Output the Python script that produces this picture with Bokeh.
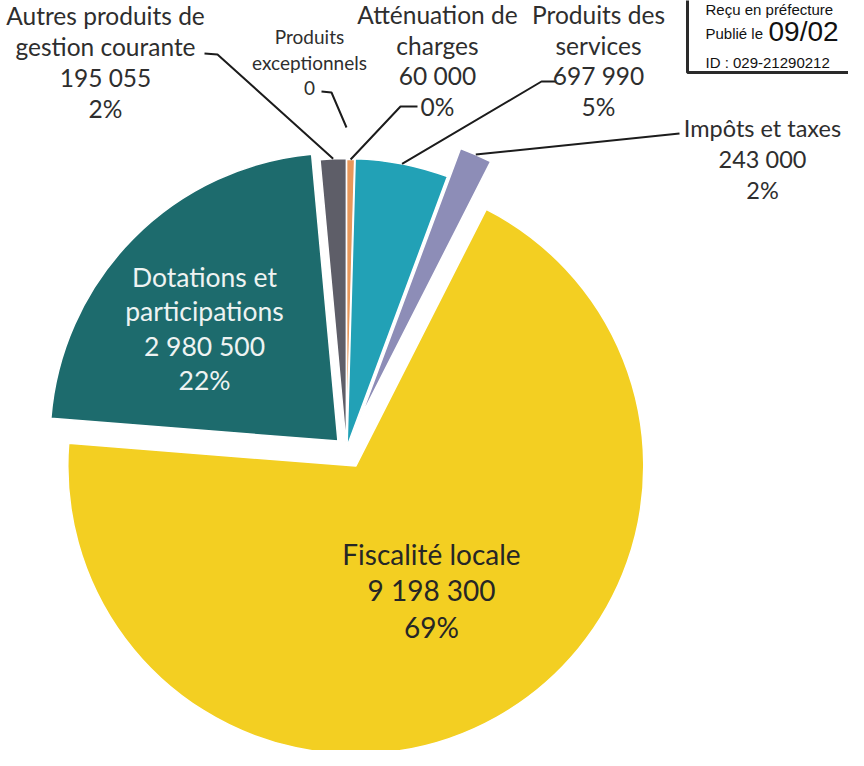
import math
from bokeh.plotting import figure
from bokeh.models import Range1d, ColumnDataSource
from bokeh.core.properties import value
from bokeh.embed import file_html
from bokeh.resources import INLINE

# ---------------- data ----------------
categories = ["Atténuation de charges", "Produits des services", "Impôts et taxes",
              "Fiscalité locale", "Dotations et participations",
              "Autres produits de gestion courante", "Produits exceptionnels"]
name_lines = [["Atténuation de", "charges"], ["Produits des", "services"], ["Impôts et taxes"],
              ["Fiscalité locale"], ["Dotations et", "participations"],
              ["Autres produits de", "gestion courante"], ["Produits", "exceptionnels"]]
amounts = [60000, 697990, 243000, 9198300, 2980500, 195055, 0]
pct_labels = ["0%", "5%", "2%", "69%", "22%", "2%", ""]
colors = ["#E8985B", "#22A1B6", "#8D8DB7", "#F3CF22", "#1D6B6D", "#5E5E68", "#9A9A9A"]

# ---------------- layout / style ----------------
W, H = 848, 750
R = 288
CX, CY = 354, 457                     # pie centre (reference pixel coords, y down)
explode = [2, 3, 34, 19, 12, 3, 0]
# label anchor: centre x, first line centre y, font px, line gap, colour
label_pos = [(445, 22, 24.5, 30.5, "#2e2e2e"), (606, 22, 24.5, 30.5, "#2e2e2e"),
             (770, 135, 23.5, 31, "#2e2e2e"), (439, 561, 28, 36.5, "#262626"),
             (212, 284, 26.5, 34.5, "#EEF3F2"), (113, 23, 24.5, 31, "#2e2e2e"),
             (317, 44, 19, 25.5, "#2e2e2e")]
# leader start points (label side), reference pixel coords
leader_start = [[(425, 114), (408, 114)], [(564, 89), (549, 89)], [(687, 141)], None, None,
                [(212, 61), (225, 62)], [(329, 99), (339, 100)]]
leader_extra = [0, 0, 0, 0, 0, 0, 34]


def Y(y):  # reference (y down) -> data (y up)
    return 766 - y


p = figure(width=W, height=H, x_range=Range1d(8, 8 + W), y_range=Range1d(766 - 8 - H, 766 - 8),
           output_backend="svg", toolbar_location=None, min_border=0)
p.axis.visible = False
p.grid.visible = False
p.outline_line_color = None
p.background_fill_color = "white"

total = sum(amounts)
cum = 0.0
wx, wy, ws, we, wc = [], [], [], [], []
apex = []
bis = []
for i, v in enumerate(amounts):
    t1 = cum / total * 360
    cum += v
    t2 = cum / total * 360
    tm = math.radians((t1 + t2) / 2)
    ax = CX + explode[i] * math.sin(tm)
    ay = CY - explode[i] * math.cos(tm)
    apex.append((ax, ay))
    bis.append(tm)
    if v > 0:
        wx.append(ax)
        wy.append(Y(ay))
        ws.append(math.radians(90 - t2))
        we.append(math.radians(90 - t1))
        wc.append(colors[i])

p.wedge(x="x", y="y", radius=R, start_angle="s", end_angle="e", direction="anticlock",
        fill_color="c", line_color="white", line_width=1.5,
        source=ColumnDataSource(dict(x=wx, y=wy, s=ws, e=we, c=wc)))

# leader lines
for i, st in enumerate(leader_start):
    if st is None:
        continue
    ax, ay = apex[i]
    r = R + leader_extra[i]
    ex = ax + r * math.sin(bis[i])
    ey = ay - r * math.cos(bis[i])
    pts = st + [(ex, ey)]
    p.line([q[0] for q in pts], [Y(q[1]) for q in pts], line_color="#1c1c1c", line_width=2)

# labels
for i in range(len(categories)):
    lines = list(name_lines[i]) + [f"{amounts[i]:,}".replace(",", " ")]
    if pct_labels[i]:
        lines.append(pct_labels[i])
    cx, y0, fs, gap, col = label_pos[i]
    p.text(x=[cx] * len(lines), y=[Y(y0 + k * gap) for k in range(len(lines))], text=lines,
           text_align="center", text_baseline="middle", text_font=value("Lato"),
           text_font_size=f"{fs}px", text_color=col)

# stamp box (top right)
p.quad(left=[695], right=[900], top=[Y(-30)], bottom=[Y(80)], fill_color="white",
       line_color="#2a2a2a", line_width=3)
p.text(x=[713, 713, 713], y=[Y(17), Y(41), Y(70)],
       text=["Reçu en préfecture", "Publié le", "ID : 029-21290212"],
       text_align="left", text_baseline="middle", text_font=value("Liberation Sans"),
       text_font_size="15px", text_color="#111111")
p.text(x=[776], y=[Y(39)], text=["09/02"], text_align="left", text_baseline="middle",
       text_font=value("Liberation Sans"), text_font_size="28px", text_color="#111111")

open("out.html", "w").write(file_html(p, INLINE))
